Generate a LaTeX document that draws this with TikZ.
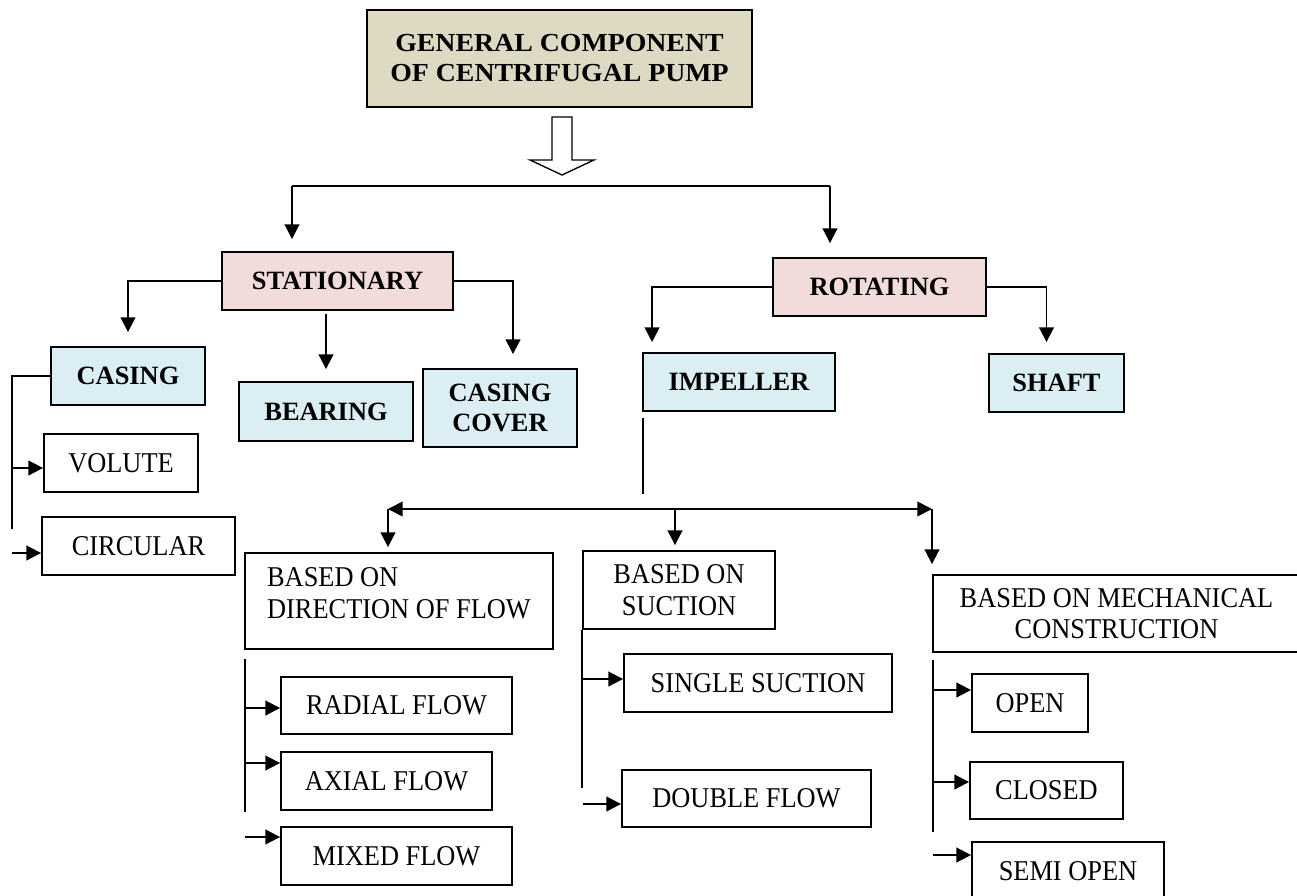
\documentclass[tikz,border=0pt]{standalone}
\usepackage{fontspec}
\setmainfont{Liberation Serif}
\newfontfamily\rgf{Liberation Serif}[FakeStretch=0.92]
\newfontfamily\ttlf{Liberation Serif}[FakeStretch=1.07]
\usetikzlibrary{arrows.meta,calc}
\newdimen\px \px=0.75pt
\definecolor{tanbox}{HTML}{DDD9C3}
\definecolor{pinkbox}{HTML}{F2DCDB}
\definecolor{bluebox}{HTML}{DAEEF3}
\tikzset{
  box/.style={draw, line width=1.4pt, inner sep=0pt, align=center},
  tbold/.style={font=\fontsize{19.8pt}{22.5pt}\selectfont\bfseries},
  treg/.style={font=\rgf\fontsize{21.5pt}{23pt}\selectfont},
  tregw/.style={font=\rgf\fontsize{21.5pt}{24pt}\selectfont},
  ttl/.style={font=\ttlf\fontsize{19.5pt}{22.5pt}\selectfont\bfseries},
  pinkb/.style={box, fill=pinkbox, tbold},
  blueb/.style={box, fill=bluebox, tbold},
  whiteb/.style={box, fill=white, treg},
  ln/.style={line width=1.4pt},
  arr/.style={ln, -{Triangle[length=11pt,width=11pt]}},
  darr/.style={ln, {Triangle[length=11pt,width=11pt]}-{Triangle[length=11pt,width=11pt]}},
}
\begin{document}
\begin{tikzpicture}[x=0.75pt,y=-0.75pt]
\useasboundingbox (0,0) rectangle (1297,896);
% title
\node[box, fill=tanbox, ttl, minimum width=385\px, minimum height=97\px] (title) at (559.5,58.5) {GENERAL COMPONENT\\OF CENTRIFUGAL PUMP};
% hollow arrow
\draw[line width=1pt, fill=white] (552,117) -- (572,117) -- (572,160) -- (594,160) -- (562,175) -- (530,160) -- (552,160) -- cycle;
% level 1
\node[pinkb, minimum width=231\px, minimum height=58\px] (stat) at (337.5,281) {STATIONARY};
\node[pinkb, minimum width=213\px, minimum height=58\px] (rot) at (879.5,287) {ROTATING};
% level 2
\node[blueb, minimum width=154\px, minimum height=58\px] (casing) at (128,376) {CASING};
\node[blueb, minimum width=174\px, minimum height=59\px] (bearing) at (326,411.5) {BEARING};
\node[blueb, minimum width=154\px, minimum height=78\px] (cover) at (500,408) {CASING\\COVER};
\node[blueb, minimum width=192\px, minimum height=58\px] (impeller) at (739,382) {IMPELLER};
\node[blueb, minimum width=135\px, minimum height=58\px] (shaft) at (1056.5,383) {SHAFT};
% casing types
\node[whiteb, minimum width=154\px, minimum height=58\px] (volute) at (121,463) {VOLUTE};
\node[whiteb, minimum width=193\px, minimum height=58\px] (circular) at (138.5,546) {CIRCULAR};
% impeller classifications
\node[box, tregw, align=left, minimum width=308\px, minimum height=96\px] (dir) at (399,601) {BASED ON\\DIRECTION OF FLOW\rule[-15\px]{0pt}{0pt}};
\node[box, tregw, minimum width=192\px, minimum height=78\px] (suction) at (679,590) {BASED ON\\SUCTION};
\node[box, treg, minimum width=367\px, minimum height=77\px] (mech) at (1116.5,613.5) {BASED ON MECHANICAL\\CONSTRUCTION};
% leaves
\node[whiteb, minimum width=231\px, minimum height=57\px] (radial) at (396.5,705.5) {RADIAL FLOW};
\node[whiteb, minimum width=211\px, minimum height=58\px] (axial) at (386.5,781) {AXIAL FLOW};
\node[whiteb, minimum width=231\px, minimum height=58\px] (mixed) at (396.5,856) {MIXED FLOW};
\node[whiteb, minimum width=268\px, minimum height=58\px] (single) at (758,683) {SINGLE SUCTION};
\node[whiteb, minimum width=249\px, minimum height=57\px] (double) at (746.5,798.5) {DOUBLE FLOW};
\node[whiteb, minimum width=116\px, minimum height=58\px] (open) at (1030,703) {OPEN};
\node[whiteb, minimum width=153\px, minimum height=57\px] (closed) at (1046.5,790.5) {CLOSED};
\node[whiteb, minimum width=192\px, minimum height=58\px] (semi) at (1068,871) {SEMI OPEN};
% top split
\coordinate (tl) at (292,186);
\coordinate (tr) at (830,186);
\draw[ln] (tl) -- (tr);
\draw[arr, shorten >=12\px] (tl) -- (tl |- stat.north);
\draw[arr, shorten >=14\px] (tr) -- (tr |- rot.north);
% stationary
\draw[arr, shorten >=14\px] (stat.west) -| (casing.north);
\draw[arr, shorten <=3\px, shorten >=12\px] (stat.south -| bearing.north) -- (bearing.north);
\draw[arr, shorten >=14\px] (stat.east) -| ([xshift=13\px]cover.north);
% rotating
\draw[arr, shorten >=10\px] (rot.west) -| ([xshift=10\px]impeller.north west);
\draw[arr, shorten >=11\px] (rot.east) -| ([xshift=-10\px]shaft.north);
% casing bracket
\coordinate (cb) at (12,529);
\draw[ln] (casing.west) -| (cb);
\coordinate (cv) at (12,468);
\draw[arr] (cv) -- (cv -| volute.west);
\coordinate (cc) at (12,553);
\draw[arr] (cc) -- (cc -| circular.west);
% impeller stem
\draw[ln] ([xshift=1\px,yshift=-6\px]impeller.south west) -- ++(0,76);
% split of impeller
\coordinate (dl) at (388,509);
\coordinate (dm) at (675,509);
\coordinate (dr) at (932,509);
\draw[darr] (dl) -- (dr);
\draw[arr, shorten >=5\px] (dl) -- (dl |- dir.north);
\draw[arr, shorten >=5\px] (dm) -- (dm |- suction.north);
\draw[arr, shorten >=10\px] (dr) -- (dr |- mech.north);
% direction bracket
\coordinate (da) at (245,659);
\coordinate (db) at (245,812);
\draw[ln] (da) -- (db);
\coordinate (d1) at (245,708);
\draw[arr] (d1) -- (d1 -| radial.west);
\coordinate (d2) at (245,763);
\draw[arr] (d2) -- (d2 -| axial.west);
\coordinate (d3) at (245,837);
\draw[arr] (d3) -- (d3 -| mixed.west);
% suction bracket
\draw[ln] (suction.south west) -- ++(0,158);
\coordinate (s1) at (583,679);
\draw[arr] (s1) -- (s1 -| single.west);
\coordinate (s2) at (583,804);
\draw[arr] (s2) -- (s2 -| double.west);
% mechanical bracket
\coordinate (ma) at (933,660);
\coordinate (mb) at (933,832);
\draw[ln] (ma) -- (mb);
\coordinate (m1) at (933,690);
\draw[arr] (m1) -- (m1 -| open.west);
\coordinate (m2) at (933,782);
\draw[arr] (m2) -- (m2 -| closed.west);
\coordinate (m3) at (933,855);
\draw[arr] (m3) -- (m3 -| semi.west);
\end{tikzpicture}
\end{document}
